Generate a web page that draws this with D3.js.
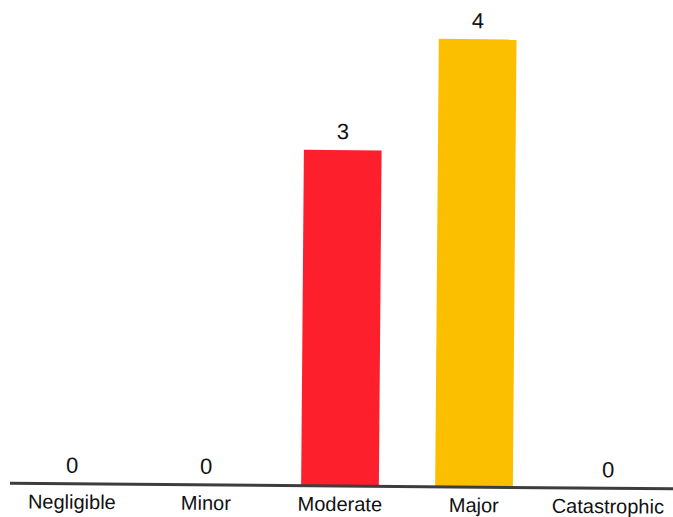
<!DOCTYPE html>
<html>
<head>
<meta charset="utf-8">
<script src="https://cdn.jsdelivr.net/npm/d3@7"></script>
<style>
  html, body { margin: 0; padding: 0; background: #fff; }
  svg { display: block; }
  text { font-family: "Liberation Sans", Arial, Helvetica, sans-serif; fill: #111; }
</style>
</head>
<body>
<svg id="chart" width="673" height="517"></svg>
<script>
// Severity categories and their counts
const categories = ["Negligible", "Minor", "Moderate", "Major", "Catastrophic"];
const counts = [0, 0, 3, 4, 0];
const barColors = ["#8cc63f", "#ffe600", "#fe1f2c", "#fcbf00", "#7a0000"];

const W = 673, H = 517;
const baseY = 486;

const svg = d3.select("#chart");

// whole chart sits at a slight clockwise tilt
const g = svg.append("g")
  .attr("transform", `rotate(0.47, 340, ${baseY})`);

const x = d3.scaleBand()
  .domain(categories)
  .range([5, 675])
  .paddingInner(0.42)
  .paddingOuter(0.21);

const y = d3.scaleLinear()
  .domain([0, 4.34])
  .range([baseY, 0]);

const data = categories.map((c, i) => ({ cat: c, value: counts[i], color: barColors[i] }));

// bars
g.selectAll("rect.bar")
  .data(data.filter(d => d.value > 0))
  .join("rect")
  .attr("class", "bar")
  .attr("x", d => x(d.cat))
  .attr("y", d => y(d.value))
  .attr("width", x.bandwidth())
  .attr("height", d => y(0) - y(d.value))
  .attr("fill", d => d.color);

// value labels above each bar
g.selectAll("text.value")
  .data(data)
  .join("text")
  .attr("class", "value")
  .attr("x", d => x(d.cat) + x.bandwidth() / 2)
  .attr("y", d => y(d.value) - 11)
  .attr("text-anchor", "middle")
  .attr("font-size", 22)
  .text(d => d.value);

// baseline
g.append("line")
  .attr("x1", 10)
  .attr("x2", W + 10)
  .attr("y1", y(0))
  .attr("y2", y(0))
  .attr("stroke", "#3d3d3d")
  .attr("stroke-width", 3);

// category labels
g.selectAll("text.cat")
  .data(data)
  .join("text")
  .attr("class", "cat")
  .attr("x", d => x(d.cat) + x.bandwidth() / 2)
  .attr("y", y(0) + 25)
  .attr("text-anchor", "middle")
  .attr("font-size", 20)
  .text(d => d.cat);
</script>
</body>
</html>
